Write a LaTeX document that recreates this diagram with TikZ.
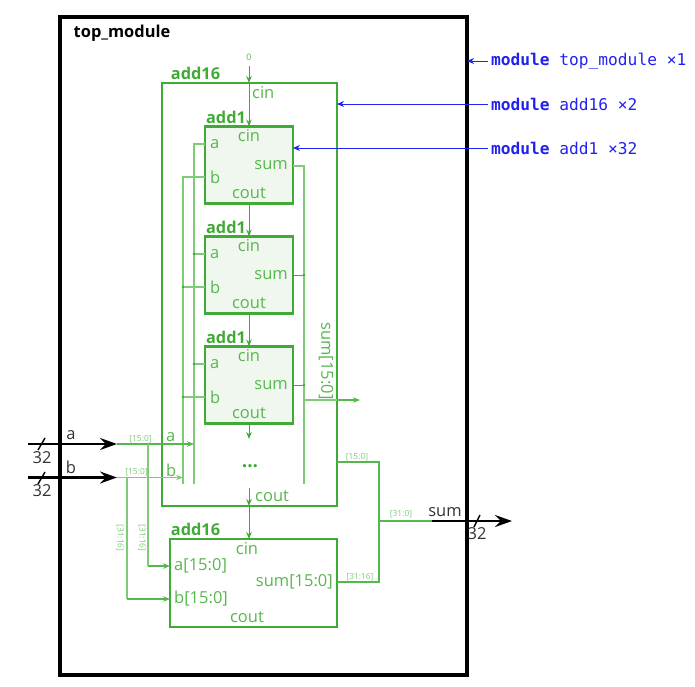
\documentclass[tikz,border=0pt]{standalone}
\usepackage{fontspec}
\setmainfont{Open Sans}
\setmonofont{DejaVu Sans Mono}
\usetikzlibrary{arrows.meta}
\definecolor{modgreen}{HTML}{3FAA35}
\definecolor{wiregreen}{HTML}{7FCB78}
\definecolor{portgreen}{HTML}{55B84C}
\definecolor{fillgreen}{HTML}{F0F7EF}
\definecolor{tagblue}{HTML}{2222F0}
\tikzset{
	blk/.style={draw=modgreen,line width=2.4,inner sep=0,outer sep=0},
	portlbl/.style={text=portgreen,font=\fontsize{16.5}{16.5}\selectfont,inner sep=0},
	modlbl/.style={text=modgreen,font=\fontsize{16.3}{16.3}\selectfont\bfseries,inner sep=0},
	bitlbl/.style={text=wiregreen,font=\fontsize{8.4}{8.4}\selectfont,inner sep=0},
	numlbl/.style={text=black!80,font=\fontsize{16.5}{16.5}\selectfont,inner sep=0},
	wire/.style={draw=wiregreen,line width=1.3},
	sigwire/.style={draw=modgreen,line width=1},
	joinwire/.style={draw=portgreen,line width=1.2},
	head/.style={-{Stealth[length=7,width=5.5]}},
	bus/.style={draw=black,line width=2.4},
	bushead/.style={-{Stealth[length=17,width=12,inset=6]}},
	tag/.style={draw=tagblue,line width=1,-{Stealth[length=7,width=6]}},
	taglbl/.style={text=tagblue,font=\fontsize{16.2}{16}\selectfont\ttfamily,anchor=west,inner sep=0},
}
\begin{document}
\begin{tikzpicture}[x=1pt,y=-1pt]
	\useasboundingbox (0,0) rectangle (695,686);
	\node[draw=black,line width=4,minimum width=407,minimum height=658,inner sep=0,outer sep=0] (top) at (263.5,346) {};
	\node[blk,minimum width=175,minimum height=423] (addxvi) at (249.5,294.5) {};
	\node[blk,minimum width=167,minimum height=88] (addxvii) at (253.5,583) {};

	% the three add1 blocks
	\foreach \blk/\ypos in {addi/165,addii/275,addiii/385}{
		\node[blk,fill=fillgreen,minimum width=88,minimum height=77] (\blk) at (249,\ypos) {};
		\node[modlbl,anchor=center] (\blk lbl) at (226,\ypos-48) {add1};
		\node[portlbl] (\blk cin) at (249,\ypos-29) {cin};
		\node[portlbl,anchor=west] (\blk a) at (210,\ypos-21) {a};
		\node[portlbl,anchor=west] (\blk b) at (210,\ypos+12) {b};
		\node[portlbl,anchor=east] (\blk sum) at (288,\ypos) {sum};
		\node[portlbl] (\blk cout) at (249,\ypos+28.5) {cout};
	}

	\coordinate (cinzero) at (249,66);
	\coordinate (cintop) at (249,83);
	\coordinate (railatop) at (194,144);
	\coordinate (railbtop) at (183,177);
	\coordinate (railsumtop) at (304,166);
	\coordinate (railaend) at (194,484);
	\coordinate (railbend) at (183,484);
	\coordinate (railsumend) at (304,484);

	\node[portlbl,font=\fontsize{9}{9}\selectfont] (zero) at (249,57) {0};
	\node[modlbl] (addxvilbl) at (195.5,73) {add16};
	\node[modlbl] (addxviilbl) at (195.5,529) {add16};
	\node[portlbl,anchor=west] (cinlbl) at (252,93) {cin};
	\node[portlbl,anchor=west] (coutlbl) at (255,496) {cout};
	\node[portlbl,rotate=-90] (sumbus) at (326,361) {sum[15:0]};
	\node[text=modgreen,font=\fontsize{19}{19}\selectfont\bfseries,inner sep=0] (dots) at (250,466) {...};
	\node[portlbl,anchor=west] (alocal) at (166,437) {a};
	\node[portlbl,anchor=west] (blocal) at (166,470) {b};

	% lower add16 ports
	\node[portlbl] (lowcin) at (247,549) {cin};
	\node[portlbl,anchor=west] (lowa) at (174,566) {a[15:0]};
	\node[portlbl,anchor=west] (lowb) at (174,599) {b[15:0]};
	\node[portlbl,anchor=east] (lowsum) at (333,582) {sum[15:0]};
	\node[portlbl] (lowcout) at (247,617) {cout};

	% carry chain
	\draw[sigwire,head] (cinzero) -- (cintop);
	\draw[sigwire,head] (cintop) -- (addi.north -| cintop);
	\draw[sigwire,head] (addi.south -| cintop) -- (addii.north -| cintop);
	\draw[sigwire,head] (addii.south -| cintop) -- (addiii.north -| cintop);
	\coordinate (coutdots) at (249,439);
	\coordinate (coutlow) at (249,488);
	\draw[sigwire,head] (addiii.south -| cintop) -- (coutdots);
	\draw[sigwire,head] (coutlow) -- (addxvi.south -| cintop);
	\draw[sigwire,head] (addxvi.south -| cintop) -- (addxvii.north -| cintop);

	% rails inside add16
	\draw[wire] (addi.west |- railatop) -- (railatop) -- (railaend);
	\draw[wire] (addi.west |- railbtop) -- (railbtop) -- (railbend);
	\draw[wire] (addi.east |- railsumtop) -- (railsumtop) -- (railsumend);
	\foreach \blk in {addii,addiii}{
		\draw[wire] (\blk.west |- \blk a) -- (\blk a -| railatop);
		\fill[modgreen] (\blk a -| railatop) circle (1.4);
		\draw[wire] (\blk.west |- \blk b) -- (\blk b -| railbtop);
		\fill[modgreen] (\blk b -| railbtop) circle (1.4);
		\draw[sigwire] (\blk.east) -- (\blk.east -| railsumtop);
		\fill[modgreen] (\blk.east -| railsumtop) circle (1.4);
	}
	\coordinate (sumtap) at (304,400);
	\coordinate (sumout) at (360,400);
	\draw[wire] (sumtap) -- (337,400);
	\draw[joinwire,head] (337,400) -- (sumout);

	% inputs
	\coordinate (ina) at (28,444);
	\coordinate (inb) at (28,477.5);
	\coordinate (ina end) at (117,444);
	\coordinate (inb end) at (117,477.5);
	\draw[bus,bushead] (ina) -- (ina end);
	\draw[bus,bushead] (inb) -- (inb end);
	\draw[black,line width=1.4] (38,450) -- (45,438);
	\draw[black,line width=1.4] (38,484) -- (45,472);
	\node[numlbl] (nina) at (42,458) {32};
	\node[numlbl] (ninb) at (42,491) {32};
	\node[numlbl] (labela) at (71,435) {a};
	\node[numlbl] (labelb) at (71,467) {b};
	\draw[joinwire,head] (ina end) -- (railatop |- ina);
	\draw[wire,head] (inb end) -- (railbtop |- inb);
	\coordinate (tapa) at (148,444);
	\coordinate (tapb) at (127,477.5);
	\draw[wire] (tapa) -- (tapa |- lowa);
	\draw[wire] (tapb) -- (tapb |- lowb);
	\draw[joinwire,head] (tapa |- lowa) -- (addxvii.west |- lowa);
	\draw[joinwire,head] (tapb |- lowb) -- (addxvii.west |- lowb);
	\node[bitlbl] (bita) at (140.5,439) {[15:0]};
	\node[bitlbl] (bitb) at (136.5,472.5) {[15:0]};
	\node[bitlbl,rotate=-90] (bitahi) at (142,538) {[31:16]};
	\node[bitlbl,rotate=-90] (bitbhi) at (120,538) {[31:16]};

	% sum output
	\coordinate (joinhi) at (379,462);
	\coordinate (joinlo) at (379,582);
	\coordinate (joinmid) at (379,521);
	\coordinate (sumstart) at (432,521);
	\coordinate (sumend) at (512,521);
	\draw[joinwire] (addxvi.east |- joinhi) -- (joinhi) -- (joinlo) -- (addxvii.east |- joinlo);
	\draw[joinwire] (joinmid) -- (sumstart);
	\draw[bus,bushead] (sumstart) -- (sumend);
	\draw[black,line width=1.4] (474,527) -- (480,515);
	\node[numlbl] (nsum) at (477,534) {32};
	\node[numlbl] (labelsum) at (445,512) {sum};
	\node[bitlbl] (bithi) at (357,457) {[15:0]};
	\node[bitlbl] (bitlo) at (360,577) {[31:16]};
	\node[bitlbl] (bitall) at (401,514) {[31:0]};

	\node[inner sep=0,font=\fontsize{16.4}{16.4}\selectfont\bfseries] (toplbl) at (122,33) {top\_module};

	% instance tags
	\node[taglbl] (tagtop) at (491,61) {\textbf{module} top\_module ×1};
	\node[taglbl] (tagxvi) at (491,104) {\textbf{module} add16 ×2};
	\node[taglbl] (tagi) at (491,148) {\textbf{module} add1 ×32};
	\draw[tag] (tagtop.west |- 0,61) ++(-3,0) -- (top.east |- 0,61);
	\draw[tag] (tagxvi.west) ++(-3,0) -- (addxvi.east |- tagxvi.west);
	\draw[tag] (tagi.west) ++(-3,0) -- (addi.east |- tagi.west);
\end{tikzpicture}
\end{document}
